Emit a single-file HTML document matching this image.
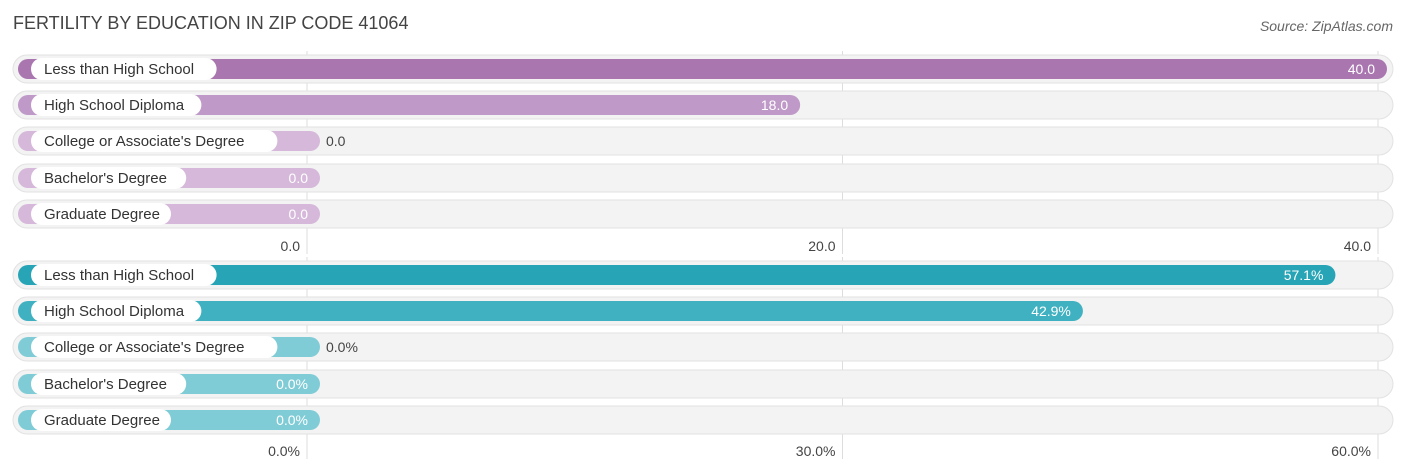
<!DOCTYPE html>
<html><head><meta charset="utf-8"><style>
body{margin:0;background:#fff;font-family:"Liberation Sans",sans-serif;}
svg{display:block}
</style></head><body>
<svg id="c" width="1406" height="476">
<text x="13" y="29" font-size="18" fill="#444">FERTILITY BY EDUCATION IN ZIP CODE 41064</text>
<text x="1393" y="31" font-size="14" fill="#666" font-style="italic" text-anchor="end">Source: ZipAtlas.com</text>
</svg>
<script>
const categories=["Less than High School","High School Diploma","College or Associate's Degree","Bachelor's Degree","Graduate Degree"];
const countValues=[40.0,18.0,0,0,0];
const pctValues=[57.1,42.9,0,0,0];
const countTicks=[0,20,40];
const pctTicks=[0,30,60];
const svg=document.getElementById('c');
const NS="http://www.w3.org/2000/svg";
function mk(t,a,p){const e=document.createElementNS(NS,t);for(const k in a)e.setAttribute(k,a[k]);(p||svg).appendChild(e);return e;}
function panel(vals,ticks,rowY,axisY,colors,fmt,name){
  const max=ticks[ticks.length-1];
  const gx=v=>307+v/max*(1378-307);
  const bx=v=>320+v/max*(1387-320);
  const g=mk('g',{});
  
  
  ticks.forEach((t,i)=>{
    const l=mk('line',{x1:gx(t),x2:gx(t),y1:rowY[0]-18,y2:axisY+8,stroke:'#ddd','stroke-width':1},g);
    
    
    const tx=mk('text',{x:gx(t)-7,y:axisY+5,'font-size':14,fill:'#444','text-anchor':'end'},g);
    tx.textContent=fmt(t);
    
    
  });
  vals.forEach((v,i)=>{
    const y=rowY[i];
    const bg=mk('rect',{x:13,y:y-14,width:1380,height:28,rx:14,fill:'#f3f3f3',stroke:'#e2e2e2'},g);
    
    
    const c=v===0?colors[2]:(i===0?colors[0]:colors[1]);
    const b=mk('rect',{x:18,y:y-10,width:bx(v)-18,height:20,rx:10,fill:c},g);
    
    
    const lw=categories[i].length*7.6+26;
    const lp=mk('rect',{x:31,y:y-11,width:lw,height:22,rx:11,fill:'#fff'},g);
    
    
    const lt=mk('text',{x:44,y:y+5,'font-size':15,fill:'#333'},g);
    lt.textContent=categories[i];
    
    
    const inside=bx(v)-lw-31>80;
    const vt=mk('text',{x:inside?bx(v)-12:bx(v)+6,y:y+5,'font-size':14,fill:inside?'#fff':'#444','text-anchor':inside?'end':'start'},g);
    vt.textContent=fmt(v);
    
    
  });
}
panel(countValues,countTicks,[69,105,141,178,214],246,['#a976b0','#bf99c7','#d6b8da'],v=>v.toFixed(1),'count-panel');
panel(pctValues,pctTicks,[275,311,347,384,420],451,['#27a4b6','#3fb1c1','#80ccd6'],v=>v.toFixed(1)+'%','percent-panel');
</script>
</body></html>
